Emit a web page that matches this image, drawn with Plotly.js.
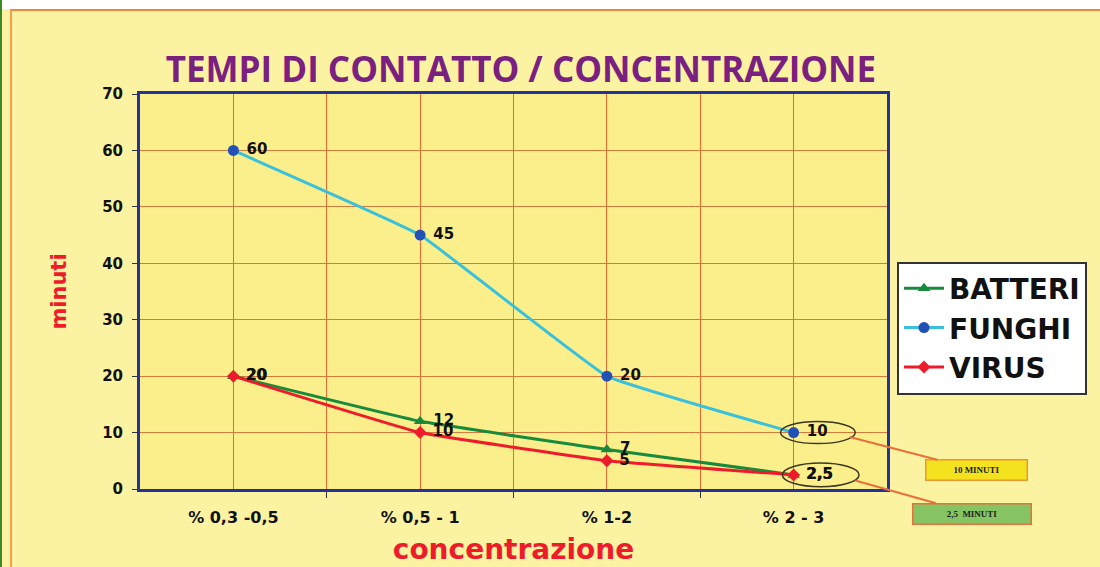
<!DOCTYPE html>
<html>
<head>
<meta charset="utf-8">
<script src="https://cdn.plot.ly/plotly-3.0.1.min.js"></script>
<style>
  html, body { margin: 0; padding: 0; background: #ffffff; }
  #wrap { position: relative; width: 1100px; height: 567px; overflow: hidden;
          background: #fcf3a2; }
  #topstrip { position: absolute; left: 0; top: 0; width: 1100px; height: 9px; background: #ffffff; }
  #frame { position: absolute; left: 10px; top: 9px; width: 1100px; height: 600px;
           border-left: 2px solid #f2a050; border-top: 2px solid #f08a3a; }
  #green { position: absolute; left: 0; top: 0; width: 2px; height: 567px; background: #3a8a2a; }
  #chart { position: absolute; left: 0; top: 0; width: 1100px; height: 567px; }
</style>
</head>
<body>
<div id="wrap">
  <div id="topstrip"></div>
  <div id="frame"></div>
  <div id="green"></div>
  <div id="chart"></div>
</div>
<script>
// ---- data ----
const categories = ["% 0,3 -0,5", "% 0,5 - 1", "% 1-2", "% 2 - 3"];
const batteri = [20, 12, 7, 2.5];
const funghi  = [60, 45, 20, 10];
const virus   = [20, 10, 5, 2.5];
const yTicks  = [0, 10, 20, 30, 40, 50, 60, 70];

const xIdx = categories.map((c, i) => i);
const fmt = v => ' ' + String(v).replace('.', ',');

const labelFont = { family: 'DejaVu Sans, Verdana, sans-serif', size: 15, weight: 'bold', color: '#111111' };

const traces = [
  {
    name: 'BATTERI', x: xIdx, y: batteri, type: 'scatter', mode: 'lines+markers+text',
    text: batteri.map(fmt), textposition: 'middle right', textfont: labelFont,
    line: { color: '#188a3c', width: 3, shape: 'spline', smoothing: 0.25 },
    marker: { symbol: 'triangle-up', size: 11, color: '#188a3c' },
    cliponaxis: false
  },
  {
    name: 'FUNGHI', x: xIdx, y: funghi, type: 'scatter', mode: 'lines+markers+text',
    text: funghi.map(fmt), textposition: 'middle right', textfont: labelFont,
    line: { color: '#38c0dc', width: 3, shape: 'spline', smoothing: 0.25 },
    marker: { symbol: 'circle', size: 11, color: '#2350b4' },
    cliponaxis: false
  },
  {
    name: 'VIRUS', x: xIdx, y: virus, type: 'scatter', mode: 'lines+markers+text',
    text: virus.map(fmt), textposition: 'middle right', textfont: labelFont,
    line: { color: '#ee1c2a', width: 3, shape: 'spline', smoothing: 0.25 },
    marker: { symbol: 'diamond', size: 10, color: '#ee1c2a' },
    cliponaxis: false
  }
];

const last = categories.length - 1;
const shapes = [
  { type: 'circle', xref: 'x', yref: 'y', x0: last - 0.07, x1: last + 0.33,
    y0: funghi[last] - 1.95, y1: funghi[last] + 1.95,
    line: { color: '#3a3620', width: 1.5 } },
  { type: 'circle', xref: 'x', yref: 'y', x0: last - 0.06, x1: last + 0.35,
    y0: virus[last] - 2.1, y1: virus[last] + 2.1,
    line: { color: '#3a3620', width: 1.5 } }
];

const annotations = [
  { xref: 'x', yref: 'y', x: last + 0.30, y: funghi[last] - 0.8,
    text: '<b>10 MINUTI</b>', showarrow: true, arrowhead: 0, arrowwidth: 2, arrowcolor: '#e8703a',
    ax: 127, ay: 33, width: 96, height: 15,
    font: { family: 'Liberation Serif, DejaVu Serif, serif', size: 9, color: '#222222' },
    bgcolor: '#f5e21e', bordercolor: '#e89a2a', borderwidth: 1.5, borderpad: 2 },
  { xref: 'x', yref: 'y', x: last + 0.33, y: virus[last] - 1.0,
    text: '<b>2,5  MINUTI</b>', showarrow: true, arrowhead: 0, arrowwidth: 2, arrowcolor: '#e8703a',
    ax: 117, ay: 33, width: 113, height: 15,
    font: { family: 'Liberation Serif, DejaVu Serif, serif', size: 9, color: '#222222' },
    bgcolor: '#86c463', bordercolor: '#e8703a', borderwidth: 1.5, borderpad: 2 }
];

const layout = {
  width: 1100, height: 567,
  margin: { l: 140, r: 213, t: 94, b: 78 },
  paper_bgcolor: 'rgba(0,0,0,0)',
  plot_bgcolor: '#fbef8c',
  title: {
    text: '<b>TEMPI DI CONTATTO / CONCENTRAZIONE</b>',
    font: { family: 'Open Sans, sans-serif', size: 35, color: '#7a2080' },
    x: 0.51, xref: 'paper', xanchor: 'center',
    y: 1 - 70 / 567, yref: 'container', yanchor: 'middle'
  },
  xaxis: {
    range: [-0.5, 3.5],
    tickmode: 'array', tickvals: xIdx, ticktext: categories,
    ticks: '', showgrid: true, gridcolor: '#ec6a30', gridwidth: 1.2,
    ticklabelstandoff: 12,
    minor: { tickmode: 'array', tickvals: xIdx.slice(0, -1).map(i => i + 0.5),
             ticks: 'outside', ticklen: 6, tickcolor: '#333', tickwidth: 1,
             showgrid: true, gridcolor: '#ec6a30', gridwidth: 1.2 },
    showline: true, linecolor: '#22349a', linewidth: 3, mirror: true,
    zeroline: false,
    tickfont: { family: 'DejaVu Sans, Verdana, sans-serif', size: 16, weight: 'bold', color: '#111' },
    title: { text: '<b>concentrazione</b>', standoff: 14,
             font: { family: 'DejaVu Sans, Verdana, sans-serif', size: 28, color: '#ee1c2a' } }
  },
  yaxis: {
    range: [0, 70], tickmode: 'array', tickvals: yTicks,
    ticks: 'outside', ticklen: 5, tickcolor: '#333',
    ticklabelstandoff: 6,
    showgrid: true, gridcolor: '#d47a3a', gridwidth: 1.2,
    showline: true, linecolor: '#22349a', linewidth: 3, mirror: true,
    zeroline: false,
    tickfont: { family: 'DejaVu Sans, Verdana, sans-serif', size: 15, weight: 'bold', color: '#111' },
    title: { text: '<b>minuti</b>', standoff: 30,
             font: { family: 'DejaVu Sans, Verdana, sans-serif', size: 21, color: '#ee1c2a' } }
  },
  showlegend: true,
  legend: {
    x: (897 - 140) / 747, xanchor: 'left',
    y: (489 - 328) / 395, yanchor: 'middle',
    bgcolor: '#ffffff', bordercolor: '#333333', borderwidth: 2,
    font: { family: 'DejaVu Sans, Verdana, sans-serif', size: 28, weight: 'bold', color: '#111111' },
    itemwidth: 40, tracegroupgap: 4
  },
  shapes: shapes,
  annotations: annotations
};

Plotly.newPlot('chart', traces, layout, { displayModeBar: false, staticPlot: true });
</script>
</body>
</html>
